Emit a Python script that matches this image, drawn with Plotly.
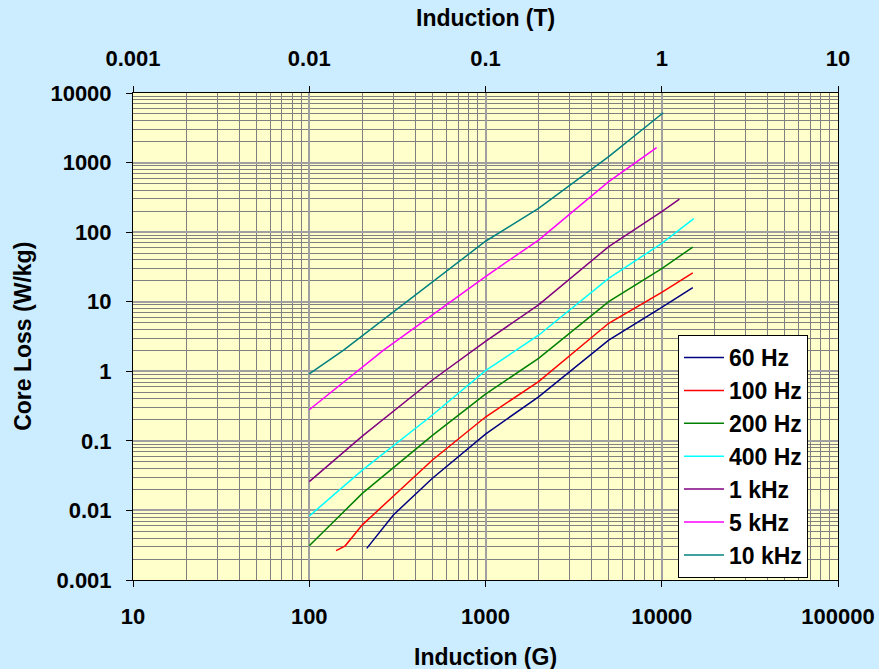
import plotly.graph_objects as go

# ---- data (Induction in Gauss, Core loss in W/kg) ----
series_names = ["60 Hz", "100 Hz", "200 Hz", "400 Hz", "1 kHz", "5 kHz", "10 kHz"]
series_colors = ["#000080", "#FF0000", "#008000", "#00FFFF", "#800080", "#FF00FF", "#008080"]

g_60 = [212, 300, 500, 1000, 2000, 5000, 10000, 15000]
w_60 = [0.00285, 0.0086, 0.029, 0.125, 0.43, 2.8, 8.3, 15.9]

g_100 = [142, 160, 200, 500, 1000, 2000, 5000, 10000, 15000]
w_100 = [0.00264, 0.0031, 0.0062, 0.053, 0.22, 0.71, 4.9, 13.6, 26]

g_200 = [100, 200, 500, 1000, 2000, 5000, 10000, 15000]
w_200 = [0.0031, 0.0176, 0.12, 0.47, 1.53, 10, 30, 61]

g_400 = [100, 200, 500, 1000, 2000, 5000, 10000, 15200]
w_400 = [0.0083, 0.038, 0.235, 1.02, 3.3, 21.7, 69, 156]

g_1k = [100, 200, 500, 1000, 2000, 5000, 10000, 12600]
w_1k = [0.026, 0.117, 0.75, 2.7, 9.0, 62, 197, 299]

g_5k = [100, 263, 1000, 2000, 5000, 9350]
w_5k = [0.28, 2.0, 23, 77, 531, 1640]

g_10k = [100, 156, 1000, 2000, 5000, 10200]
w_10k = [0.92, 2.0, 74, 220, 1215, 5200]

x_ticks_g = [10, 100, 1000, 10000, 100000]
x_ticks_t = [0.001, 0.01, 0.1, 1, 10]
y_ticks = [0.001, 0.01, 0.1, 1, 10, 100, 1000, 10000]

xs = [g_60, g_100, g_200, g_400, g_1k, g_5k, g_10k]
ys = [w_60, w_100, w_200, w_400, w_1k, w_5k, w_10k]

FONT = "Liberation Sans, Arial, sans-serif"
TICK = 22
TITLE = 23
LEG = 23

fig = go.Figure()
for name, color, gx, wy in zip(series_names, series_colors, xs, ys):
    fig.add_trace(go.Scatter(x=gx, y=wy, mode="lines", name="<b>" + name + "</b>",
                             legendgroup=name,
                             line=dict(color=color, width=1.5)))

def fmt(v):
    return "<b>" + ("%g" % v) + "</b>"

axis_common = dict(
    type="log",
    automargin=False,
    showline=True, linecolor="#000000", linewidth=1,
    ticks="outside", ticklen=6, tickcolor="#000000",
    tickfont=dict(family=FONT, size=TICK, color="#000000"),
    gridcolor="#A0A0A0", gridwidth=2,
    minor=dict(dtick="D1", showgrid=True, gridcolor="#808080", gridwidth=1, ticks=""),
    zeroline=False,
)

fig.update_layout(
    width=879, height=669,
    margin=dict(l=133, r=41, t=93, b=89),
    paper_bgcolor="#CCECFF",
    plot_bgcolor="#FFFFCC",
    font=dict(family=FONT, size=TICK, color="#000000"),
    xaxis=dict(**axis_common, range=[1, 5], tickvals=x_ticks_g,
               ticktext=[fmt(v) for v in x_ticks_g], mirror=True,
               ticklabelstandoff=11),
    xaxis2=dict(type="log", overlaying="x", side="top", range=[-3, 1],
                automargin=False,
                tickvals=x_ticks_t, ticktext=[fmt(v) for v in x_ticks_t],
                showgrid=False, showline=False, ticks="outside", ticklen=6,
                tickcolor="#000000",
                tickfont=dict(family=FONT, size=TICK, color="#000000"),
                ticklabelstandoff=11, zeroline=False),
    yaxis=dict(**axis_common, range=[-3, 4], tickvals=y_ticks,
               ticktext=[fmt(v) for v in y_ticks], mirror=True,
               ticklabelstandoff=10),
    showlegend=True,
    legend=dict(x=0.773, y=0.503, xanchor="left", yanchor="top",
                bgcolor="#FFFFFF", bordercolor="#000000", borderwidth=1,
                font=dict(family=FONT, size=LEG, color="#000000"),
                tracegroupgap=0, traceorder="grouped", itemwidth=40),
    annotations=[
        dict(text="<b>Induction (G)</b>", xref="paper", yref="paper", x=0.5, y=-0.158,
             showarrow=False, font=dict(family=FONT, size=TITLE), yanchor="middle"),
        dict(text="<b>Induction (T)</b>", xref="paper", yref="paper", x=0.5, y=1.154,
             showarrow=False, font=dict(family=FONT, size=TITLE), yanchor="middle"),
        dict(text="<b>Core Loss (W/kg)</b>", xref="paper", yref="paper", x=-0.157, y=0.5,
             showarrow=False, textangle=-90, font=dict(family=FONT, size=TITLE),
             xanchor="center", yanchor="middle"),
    ],
)
# keep top axis drawn (invisible helper trace in Tesla units)
fig.add_trace(go.Scatter(x=[v / 10000 for v in g_10k], y=w_10k, xaxis="x2",
                         mode="lines", line=dict(width=0, color="rgba(0,0,0,0)"),
                         showlegend=False, hoverinfo="skip"))

fig.write_html("out.html", config={"displayModeBar": False},
               post_script="document.body.style.margin='0';document.body.style.padding='0';")
